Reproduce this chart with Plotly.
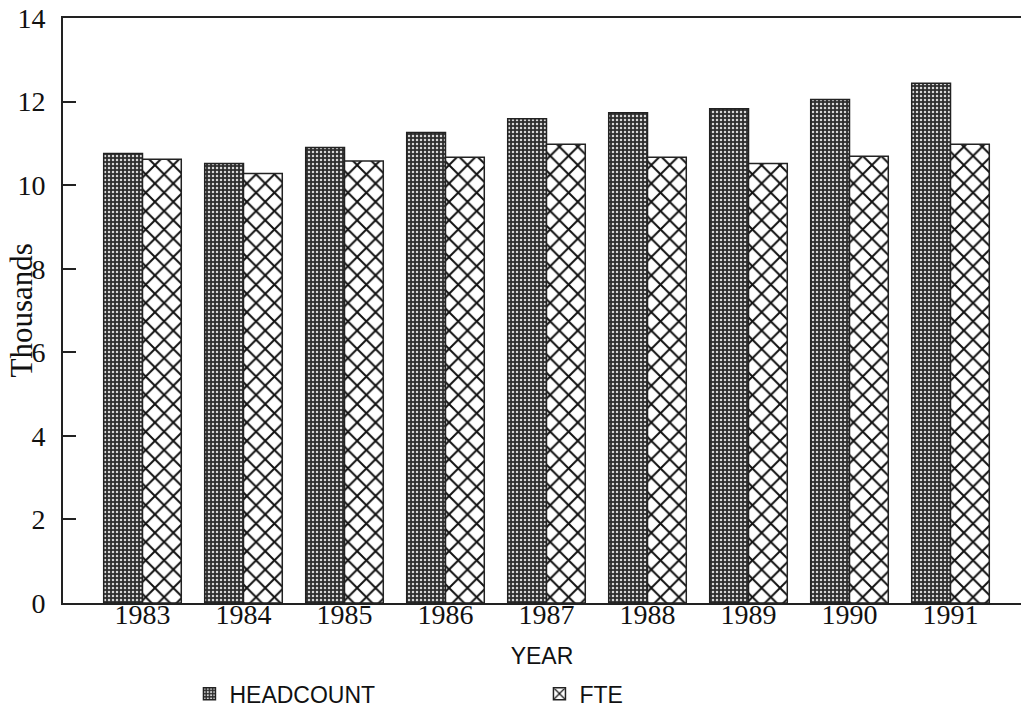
import plotly.graph_objects as go

years = ["1983", "1984", "1985", "1986", "1987", "1988", "1989", "1990", "1991"]
headcount = [10.76, 10.52, 10.90, 11.26, 11.59, 11.73, 11.83, 12.05, 12.44]
fte = [10.62, 10.28, 10.58, 10.67, 10.98, 10.67, 10.52, 10.69, 10.98]
y_ticks = [0, 2, 4, 6, 8, 10, 12, 14]

serif = "Liberation Serif, Times New Roman, serif"
sans = "Liberation Sans, Arial, sans-serif"

fig = go.Figure()
fig.add_trace(go.Bar(
    x=years, y=headcount, name="HEADCOUNT",
    marker=dict(color="#2e2e2e", line=dict(color="#222", width=1.5),
                pattern=dict(shape=".", fgcolor="#d8d8d8", fgopacity=1, size=4, solidity=0.3)),
))
fig.add_trace(go.Bar(
    x=years, y=fte, name="FTE",
    marker=dict(color="white", line=dict(color="#222", width=1.5),
                pattern=dict(shape="x", fgcolor="#111", fgopacity=1, size=13, solidity=0.28)),
))

fig.update_layout(
    width=1021, height=713,
    margin=dict(l=63, r=0, t=18, b=110, autoexpand=False),
    plot_bgcolor="white", paper_bgcolor="white",
    barmode="group", bargap=0.232, bargroupgap=0,
    showlegend=True,
    legend=dict(orientation="h", x=0.132, xanchor="left", y=-0.155, yanchor="middle",
                entrywidth=305, entrywidthmode="pixels",
                font=dict(family=sans, size=23, color="#111"), traceorder="normal"),
    xaxis=dict(type="category", range=[-0.787, 8.698], showline=True, linecolor="#222",
               linewidth=2, mirror=True, ticks="", showgrid=False, automargin=False,
               ticklabelstandoff=-15,
               tickfont=dict(family=serif, size=28, color="#111"),
               title=dict(text="YEAR", font=dict(family=sans, size=23, color="#111"), standoff=19)),
    yaxis=dict(range=[0, 14], tickvals=y_ticks, showline=True, linecolor="#222", linewidth=2,
               mirror=False, ticks="inside", ticklen=13, tickwidth=1.5, tickcolor="#222",
               showgrid=False, zeroline=False, ticklabelstandoff=10, automargin=False,
               tickfont=dict(family=serif, size=28, color="#111")),
    annotations=[dict(text="Thousands", textangle=-90, xref="paper", yref="paper",
                      x=-0.0428, y=0.50, xanchor="center", yanchor="middle", showarrow=False,
                      font=dict(family=serif, size=31, color="#111"))],
)

fig.write_html("out.html", config={"displayModeBar": False},
               post_script="document.body.style.margin='0';")
